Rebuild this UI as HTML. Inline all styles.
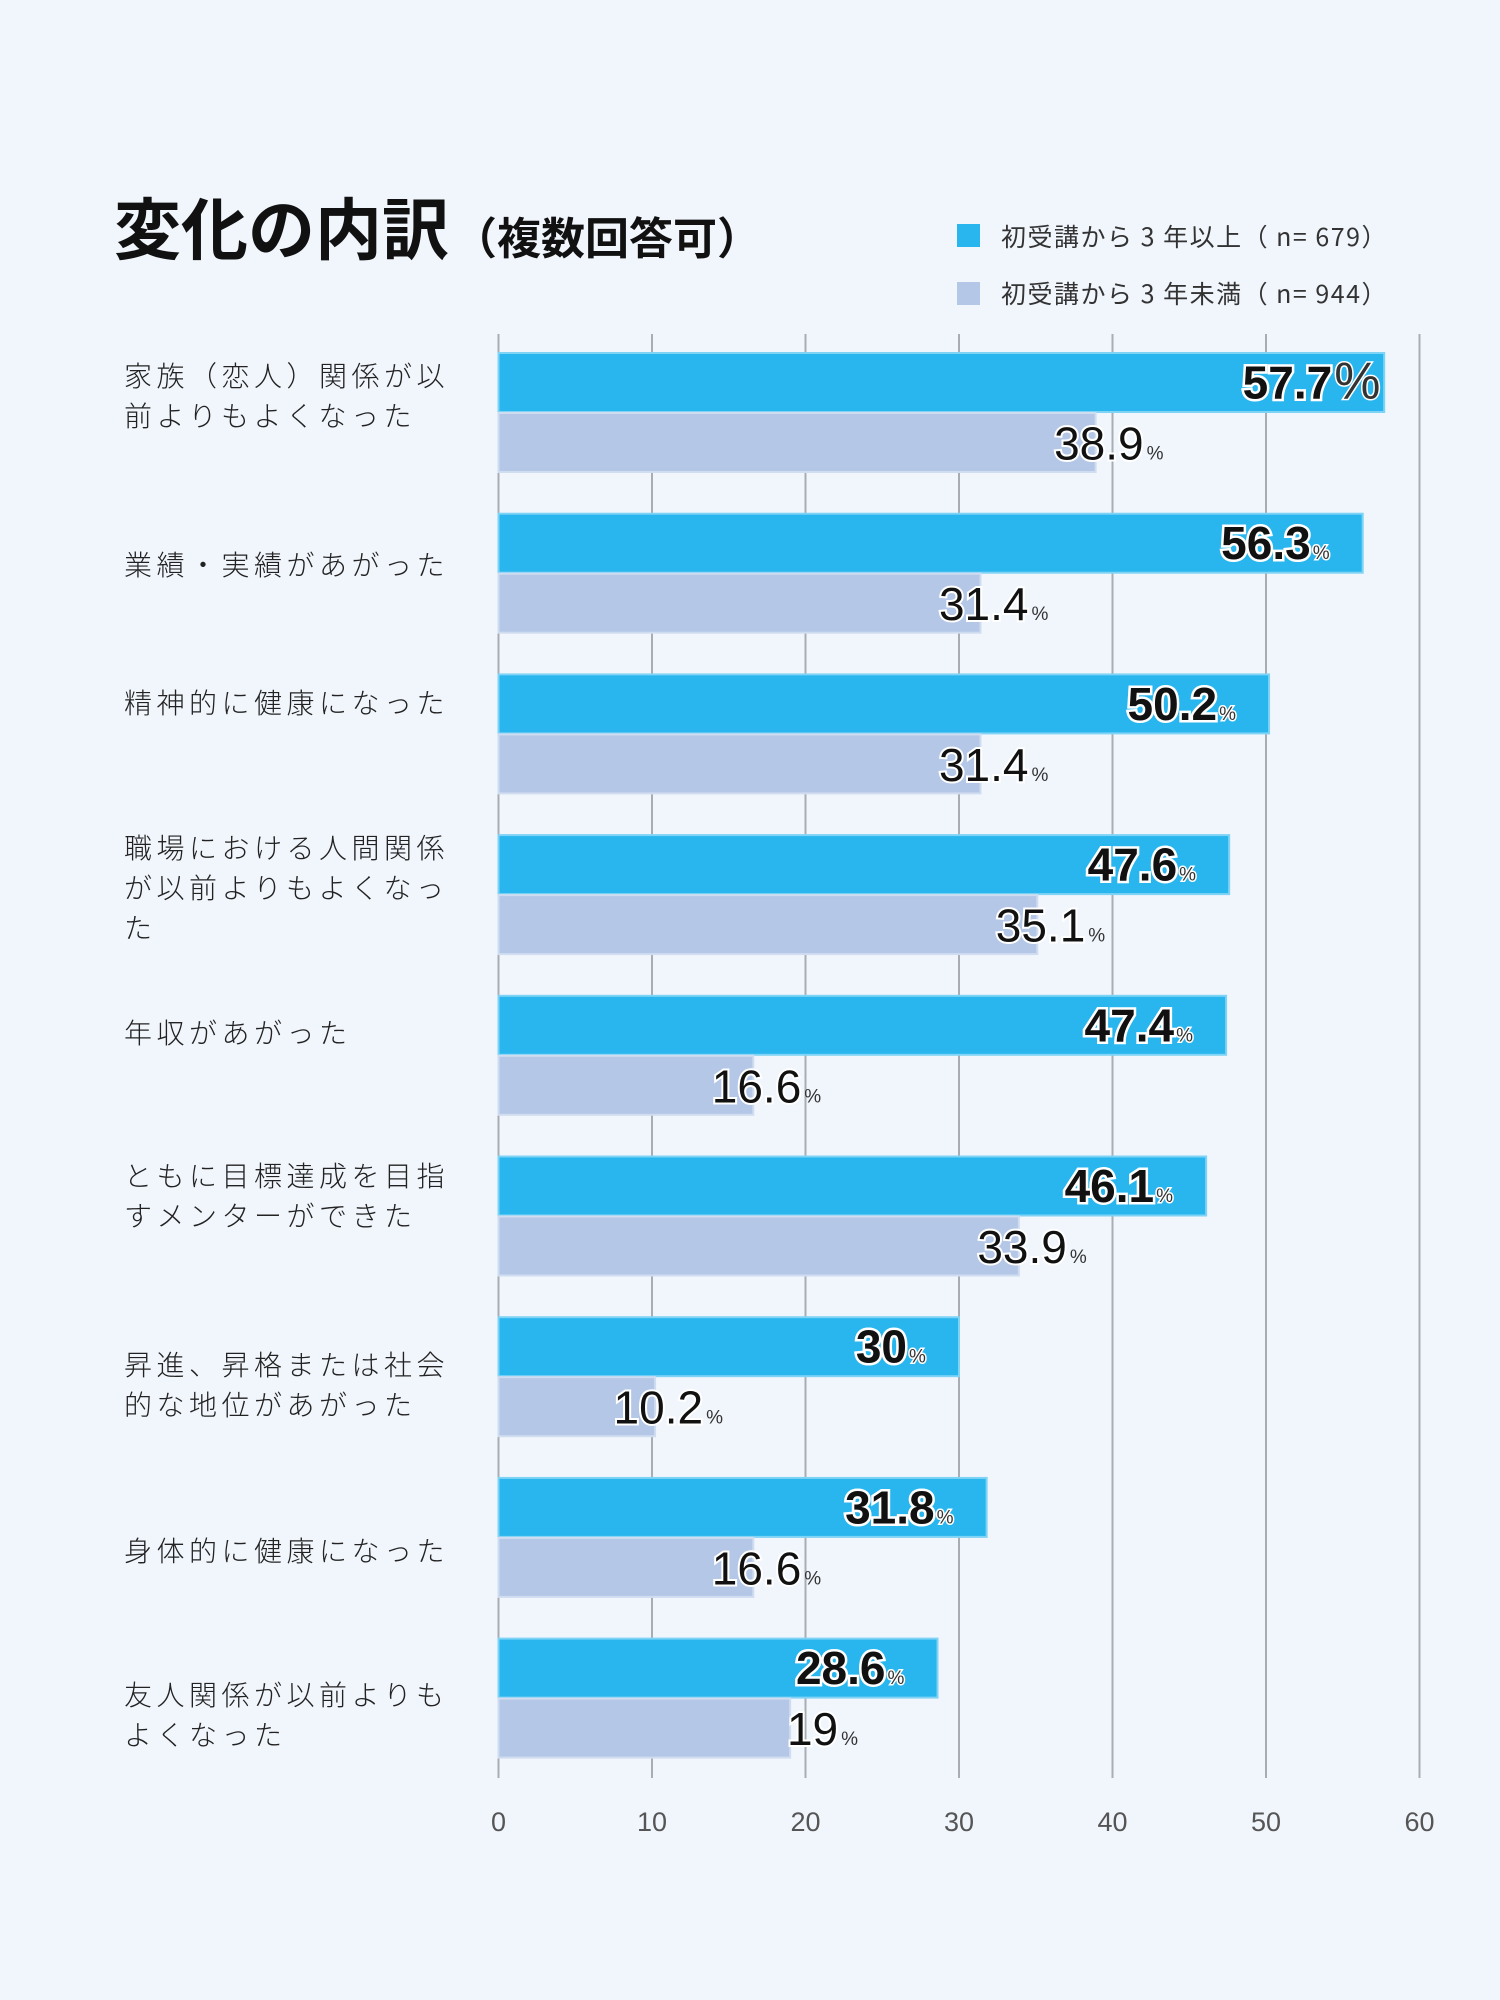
<!DOCTYPE html>
<html><head><meta charset="utf-8">
<style>
html,body{margin:0;padding:0;}
body{width:1500px;height:2000px;background:#f1f6fd;position:relative;overflow:hidden;font-family:"Liberation Sans","Noto Sans CJK JP",sans-serif;}
.abs{position:absolute;}
#title{left:114px;top:186px;font-size:67px;font-weight:bold;color:#111;white-space:nowrap;font-family:"Noto Sans CJK JP",sans-serif;line-height:80px;}
#title span{font-size:44px;margin-left:4px;}
.leg-sw{width:23px;height:23px;}
.leg-tx{font-size:25px;letter-spacing:1.5px;color:#333;white-space:nowrap;line-height:30px;font-family:"Noto Sans CJK JP",sans-serif;font-weight:400;}
.cat{left:124px;font-size:28px;line-height:40px;letter-spacing:4.5px;color:#222;font-family:"Noto Sans CJK JP",sans-serif;font-weight:300;white-space:nowrap;}
</style></head><body>
<div id="title" class="abs">変化の内訳<span>（複数回答可）</span></div>
<div class="abs leg-sw" style="left:957px;top:224px;background:#29b6ee"></div>
<div class="abs leg-tx" style="left:1001px;top:221px">初受講から 3 年以上（ n= 679）</div>
<div class="abs leg-sw" style="left:957px;top:282px;background:#b4c7e7"></div>
<div class="abs leg-tx" style="left:1001px;top:278px">初受講から 3 年未満（ n= 944）</div>
<svg id="chart" class="abs" style="left:0;top:0" width="1500" height="2000"></svg>
<div id="cats"></div>
<script>
const categories=["家族（恋人）関係が以\n前よりもよくなった","業績・実績があがった","精神的に健康になった","職場における人間関係\nが以前よりもよくなっ\nた","年収があがった","ともに目標達成を目指\nすメンターができた","昇進、昇格または社会\n的な地位があがった","身体的に健康になった","友人関係が以前よりも\nよくなった"];
const series3plus=[57.7,56.3,50.2,47.6,47.4,46.1,30,31.8,28.6];
const seriesUnder3=[38.9,31.4,31.4,35.1,16.6,33.9,10.2,16.6,19];
const tickLabels=["0","10","20","30","40","50","60"];
const tickValues=[0,10,20,30,40,50,60];
const NS="http://www.w3.org/2000/svg";
const svg=document.getElementById('chart');
const x0=498.5,x1=1419.5,vmax=60;
function xs(v){return x0+(x1-x0)*v/vmax;}
const top0=353,groupH=160.7,barH=59;
function yGroup(i){return top0+i*groupH;}
// layout: first-line centre offset of each category label relative to its group top
const labelOffsets=[22,50,28,12,36,18,47,72,55];
function mk(tag,attrs){const e=document.createElementNS(NS,tag);for(const k in attrs)e.setAttribute(k,attrs[k]);svg.appendChild(e);return e;}
tickValues.forEach((t,i)=>{
  const g=mk('line',{x1:xs(t),x2:xs(t),y1:334,y2:1778,stroke:'#a9adb3','stroke-width':2});
  
  
  const tx=mk('text',{x:xs(t),y:1831,'text-anchor':'middle','font-size':27,fill:'#555','font-family':'"Liberation Sans","Noto Sans CJK JP",sans-serif'});
  tx.textContent=tickLabels[i];
  
  
});
const catDiv=document.getElementById('cats');
categories.forEach((c,i)=>{
  const y=yGroup(i);
  const b1=mk('rect',{x:x0,y:y,width:xs(series3plus[i])-x0,height:barH,fill:'#29b6ee',stroke:'#7fd3f5','stroke-width':2});
  
  
  const b2=mk('rect',{x:x0,y:y+60,width:xs(seriesUnder3[i])-x0,height:barH,fill:'#b4c7e7',stroke:'#d0dcf0','stroke-width':2});
  
  
  const t1=mk('text',{x:xs(series3plus[i])-52,y:y+barH/2+16,'text-anchor':'end','font-size':46,'font-weight':'bold',fill:'#111',stroke:'#fff','stroke-width':5,'paint-order':'stroke','font-family':'"Liberation Sans","Noto Sans CJK JP",sans-serif'});
  t1.textContent=String(series3plus[i]);
  
  
  const p1=mk('text',{x:xs(series3plus[i])-50,y:y+barH/2+16,'font-size':i===0?52:19,fill:'#333',stroke:'#fff','stroke-width':3,'paint-order':'stroke'});
  p1.textContent='%';
  
  
  const t2=mk('text',{x:xs(seriesUnder3[i])+48,y:y+60+barH/2+17,'text-anchor':'end','font-size':46,fill:'#111',stroke:'#fff','stroke-width':4,'paint-order':'stroke','font-family':'"Liberation Sans","Noto Sans CJK JP",sans-serif'});
  t2.textContent=String(seriesUnder3[i]);
  
  
  const p2=mk('text',{x:xs(seriesUnder3[i])+51,y:y+60+barH/2+17,'font-size':19,fill:'#333'});
  p2.textContent='%';
  
  
  const lines=c.split('\n');
  const d=document.createElement('div');
  d.className='abs cat';
  
  
  d.style.top=(y+labelOffsets[i]-20)+'px';
  d.innerHTML=lines.join('<br>');
  catDiv.appendChild(d);
});
</script>
</body></html>
